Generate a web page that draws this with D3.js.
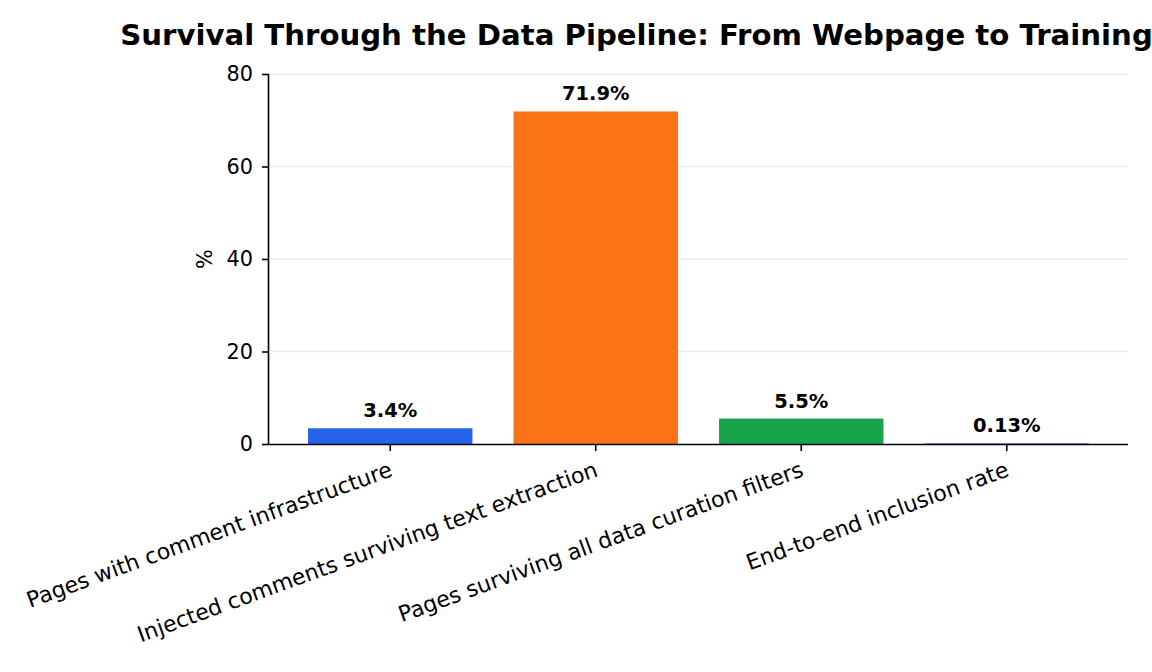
<!DOCTYPE html>
<html>
<head>
<meta charset="utf-8">
<script src="https://cdn.jsdelivr.net/npm/d3@7"></script>
<style>
  body { margin: 0; background: #fff; }
  svg { display: block; font-family: "DejaVu Sans", sans-serif; }
</style>
</head>
<body>
<div id="chart"></div>
<script>
var categories = [
  'Pages with comment infrastructure',
  'Injected comments surviving text extraction',
  'Pages surviving all data curation filters',
  'End-to-end inclusion rate'
];
var values = [3.4, 71.9, 5.5, 0.13];
var valueLabels = ['3.4%', '71.9%', '5.5%', '0.13%'];
var colors = ['#2563eb', '#f97316', '#16a34a', '#7c3aed'];
var yTicks = [0, 20, 40, 60, 80];

var width = 1152, height = 672;
var plotLeft = 269, plotRight = 1128, plotTop = 74, plotBottom = 444;

var svg = d3.select('#chart').append('svg')
  .attr('width', width)
  .attr('height', height);

var x = d3.scaleBand()
  .domain(categories)
  .range([plotLeft, plotRight])
  .paddingInner(0.2)
  .paddingOuter(0.19);

var y = d3.scaleLinear()
  .domain([0, 80])
  .range([plotBottom, plotTop]);

// grid
svg.append('g')
  .selectAll('line')
  .data(yTicks.slice(1))
  .enter()
  .append('line')
  .attr('x1', plotLeft)
  .attr('x2', plotRight)
  .attr('y1', function(d){ return y(d); })
  .attr('y2', function(d){ return y(d); })
  .attr('stroke', '#ebebeb')
  .attr('stroke-width', 1.5);

// bars
svg.append('g')
  .selectAll('rect')
  .data(values)
  .enter()
  .append('rect')
  .attr('x', function(d, i){ return x(categories[i]); })
  .attr('y', function(d){ return y(d); })
  .attr('width', x.bandwidth())
  .attr('height', function(d){ return y(0) - y(d); })
  .attr('fill', function(d, i){ return colors[i]; });

// value labels
svg.append('g')
  .selectAll('text')
  .data(values)
  .enter()
  .append('text')
  .attr('x', function(d, i){ return x(categories[i]) + x.bandwidth() / 2; })
  .attr('y', function(d){ return y(d) - 11; })
  .attr('text-anchor', 'middle')
  .attr('font-size', 19.5)
  .attr('font-weight', 'bold')
  .text(function(d, i){ return valueLabels[i]; });

// y axis
var yAxis = svg.append('g')
  .attr('transform', 'translate(' + plotLeft + ',0)')
  .call(d3.axisLeft(y).tickValues(yTicks).tickSize(7).tickPadding(9));
yAxis.selectAll('text').attr('font-size', 20.8).attr('fill', '#000').attr('font-family', '"DejaVu Sans", sans-serif');

// x axis
var xAxis = svg.append('g')
  .attr('transform', 'translate(0,' + plotBottom + ')')
  .call(d3.axisBottom(x).tickSize(7).tickPadding(7));
xAxis.selectAll('text')
  .attr('font-size', 22)
  .attr('fill', '#000')
  .attr('font-family', '"DejaVu Sans", sans-serif')
  .attr('text-anchor', 'end')
  .attr('dy', '0.75em')
  .attr('transform', 'translate(-7,3) rotate(-20)');

svg.selectAll('.domain').attr('stroke', '#000').attr('stroke-width', 1.6);
svg.selectAll('.tick line').attr('stroke', '#000').attr('stroke-width', 1.6);
xAxis.select('.domain').attr('d', 'M' + plotLeft + ',0.5H' + plotRight);
yAxis.select('.domain').attr('d', 'M-0.5,' + plotBottom + 'V' + plotTop);

// y label
svg.append('text')
  .attr('transform', 'translate(212,' + ((plotTop + plotBottom) / 2) + ') rotate(-90)')
  .attr('text-anchor', 'middle')
  .attr('font-size', 20.8)
  .text('%');

// title
svg.append('text')
  .attr('x', 636.5)
  .attr('y', 45)
  .attr('text-anchor', 'middle')
  .attr('font-size', 29.2)
  .attr('font-weight', 'bold')
  .text('Survival Through the Data Pipeline: From Webpage to Training');
</script>
</body>
</html>
